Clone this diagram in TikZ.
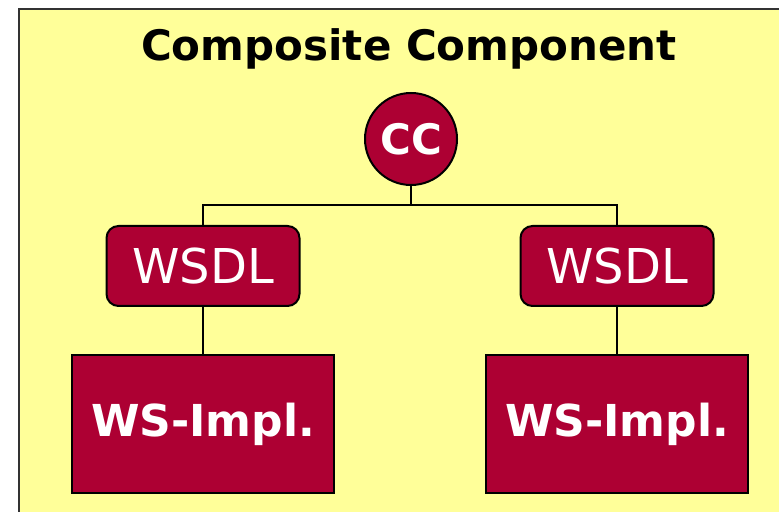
\documentclass[tikz,border=0pt]{standalone}
\usepackage{fontspec}
\setmainfont{DejaVu Sans}
\usepackage{tikz}

\definecolor{paleyellow}{HTML}{FFFF99}
\definecolor{wine}{HTML}{AD0033}

\tikzset{
	ccnode/.style={circle, draw=black, line width=1pt, fill=wine, text=white, inner sep=0pt, minimum size=46pt, font=\fontsize{21}{25}\selectfont\bfseries},
	wsdlnode/.style={rectangle, rounded corners=6pt, draw=black, line width=1pt, fill=wine, text=white, inner sep=0pt, minimum width=96.5pt, minimum height=40pt, font=\fontsize{24}{28}\selectfont},
	implnode/.style={rectangle, draw=black, line width=1.2pt, fill=wine, text=white, inner sep=0pt, minimum width=131pt, minimum height=69pt, font=\fontsize{22}{26}\selectfont\bfseries},
	link/.style={draw=black, line width=1pt}
}

\begin{document}
\begin{tikzpicture}[x=0.5pt, y=-0.5pt]
		\useasboundingbox (0,0) rectangle (779,512);
		\clip (0,0) rectangle (779,512);
		
		% yellow frame, runs off to the right and bottom
		\filldraw[fill=paleyellow, draw=black!80, line width=1pt] (19,9) rectangle (800,530);
		
		\node[font=\fontsize{21}{25}\selectfont\bfseries] (title) at (409,49) {Composite Component};
		
		\node[ccnode] (cc) at (411,139) {CC};
		
		\node[wsdlnode] (wsdlA) at (203,266) {WSDL};
		\node[wsdlnode] (wsdlB) at (617,266) {WSDL};
		
		\node[implnode] (implA) at (203,424) {WS-Impl.};
		\node[implnode] (implB) at (617,424) {WS-Impl.};
		
		% tree lines
		\coordinate (split) at (411,205);
		\draw[link] (cc.south) -- (split);
		\draw[link] (wsdlA.north) |- (split) -| (wsdlB.north);
		\draw[link] (wsdlA.south) -- (implA.north);
		\draw[link] (wsdlB.south) -- (implB.north);
		
	\end{tikzpicture}
\end{document}
